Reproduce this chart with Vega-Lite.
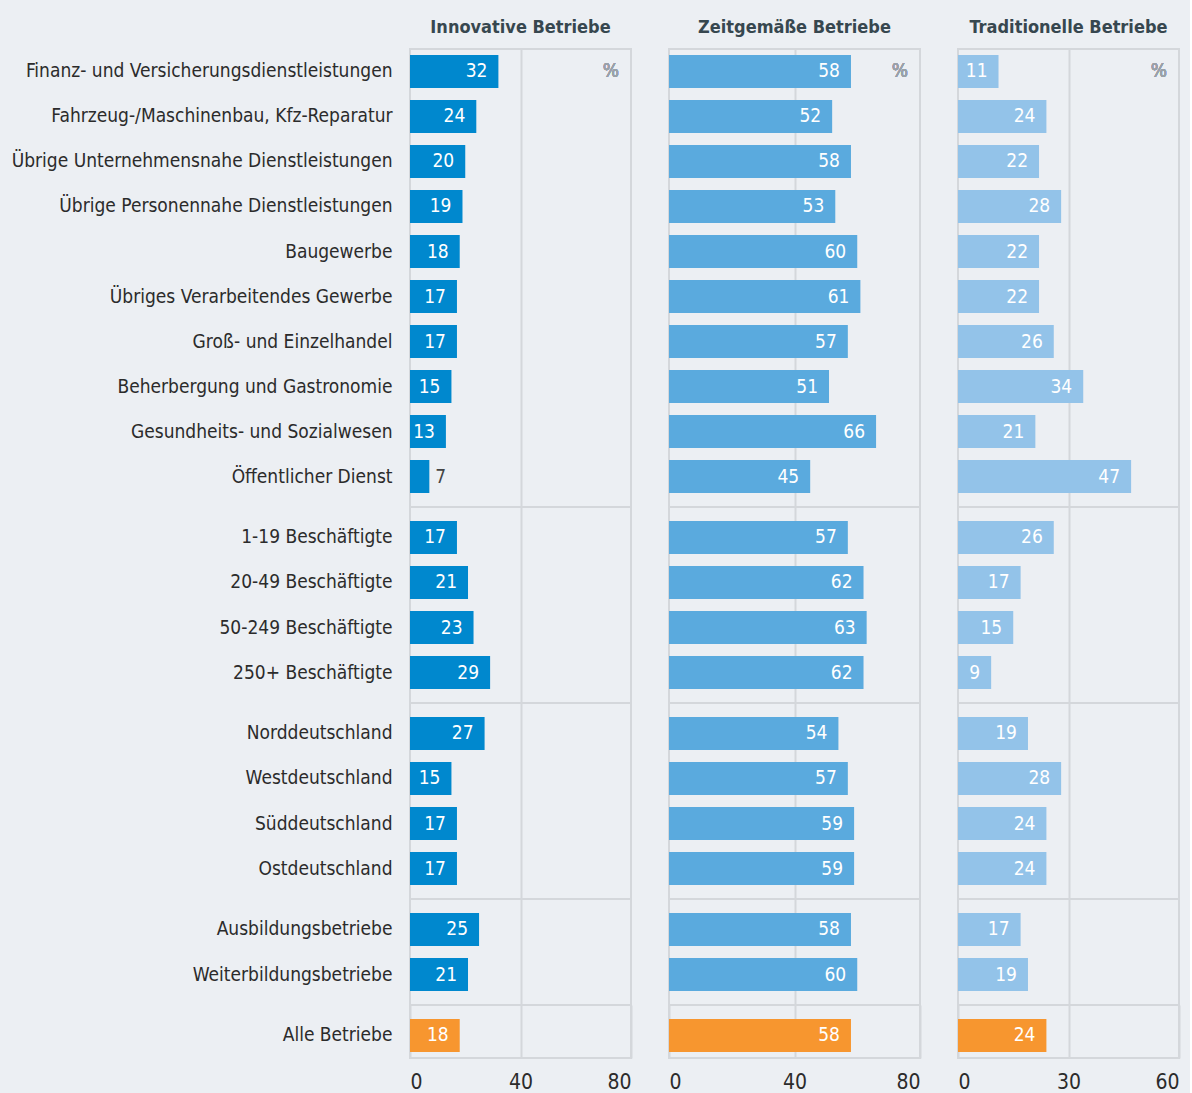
{
  "$schema": "https://vega.github.io/schema/vega-lite/v6.json",
  "background": "#eceff3",
  "padding": {"left": 10, "top": 18, "right": 10, "bottom": 0},
  "datasets": {
    "d": [
      {"Merkmal": "Finanz- und Versicherungsdienstleistungen", "Gruppe": 1, "Innovativ": 32, "Zeitgemaess": 58, "Traditionell": 11},
      {"Merkmal": "Fahrzeug-/Maschinenbau, Kfz-Reparatur", "Gruppe": 1, "Innovativ": 24, "Zeitgemaess": 52, "Traditionell": 24},
      {"Merkmal": "Übrige Unternehmensnahe Dienstleistungen", "Gruppe": 1, "Innovativ": 20, "Zeitgemaess": 58, "Traditionell": 22},
      {"Merkmal": "Übrige Personennahe Dienstleistungen", "Gruppe": 1, "Innovativ": 19, "Zeitgemaess": 53, "Traditionell": 28},
      {"Merkmal": "Baugewerbe", "Gruppe": 1, "Innovativ": 18, "Zeitgemaess": 60, "Traditionell": 22},
      {"Merkmal": "Übriges Verarbeitendes Gewerbe", "Gruppe": 1, "Innovativ": 17, "Zeitgemaess": 61, "Traditionell": 22},
      {"Merkmal": "Groß- und Einzelhandel", "Gruppe": 1, "Innovativ": 17, "Zeitgemaess": 57, "Traditionell": 26},
      {"Merkmal": "Beherbergung und Gastronomie", "Gruppe": 1, "Innovativ": 15, "Zeitgemaess": 51, "Traditionell": 34},
      {"Merkmal": "Gesundheits- und Sozialwesen", "Gruppe": 1, "Innovativ": 13, "Zeitgemaess": 66, "Traditionell": 21},
      {"Merkmal": "Öffentlicher Dienst", "Gruppe": 1, "Innovativ": 7, "Zeitgemaess": 45, "Traditionell": 47},
      {"Merkmal": "1-19 Beschäftigte", "Gruppe": 2, "Innovativ": 17, "Zeitgemaess": 57, "Traditionell": 26},
      {"Merkmal": "20-49 Beschäftigte", "Gruppe": 2, "Innovativ": 21, "Zeitgemaess": 62, "Traditionell": 17},
      {"Merkmal": "50-249 Beschäftigte", "Gruppe": 2, "Innovativ": 23, "Zeitgemaess": 63, "Traditionell": 15},
      {"Merkmal": "250+ Beschäftigte", "Gruppe": 2, "Innovativ": 29, "Zeitgemaess": 62, "Traditionell": 9},
      {"Merkmal": "Norddeutschland", "Gruppe": 3, "Innovativ": 27, "Zeitgemaess": 54, "Traditionell": 19},
      {"Merkmal": "Westdeutschland", "Gruppe": 3, "Innovativ": 15, "Zeitgemaess": 57, "Traditionell": 28},
      {"Merkmal": "Süddeutschland", "Gruppe": 3, "Innovativ": 17, "Zeitgemaess": 59, "Traditionell": 24},
      {"Merkmal": "Ostdeutschland", "Gruppe": 3, "Innovativ": 17, "Zeitgemaess": 59, "Traditionell": 24},
      {"Merkmal": "Ausbildungsbetriebe", "Gruppe": 4, "Innovativ": 25, "Zeitgemaess": 58, "Traditionell": 17},
      {"Merkmal": "Weiterbildungsbetriebe", "Gruppe": 4, "Innovativ": 21, "Zeitgemaess": 60, "Traditionell": 19},
      {"Merkmal": "Alle Betriebe", "Gruppe": 5, "Innovativ": 18, "Zeitgemaess": 58, "Traditionell": 24}
    ]
  },
  "spacing": 36,
  "hconcat": [
    {
      "spacing": 0,
      "bounds": "flush",
      "vconcat": [
        {
          "title": {"text": "Innovative Betriebe"},
          "data": {"name": "d"},
          "transform": [{"filter": "datum.Gruppe === 1"}],
          "width": 221, "height": 458,
          "encoding": {
            "y": {"field": "Merkmal", "type": "nominal", "sort": null, "scale": {"paddingInner": 0.2667, "paddingOuter": 0.2222, "align": 0.3}, "axis": {"title": null, "ticks": false, "domain": false, "labelPadding": 18, "labelLimit": 500, "labelFontSize": 19, "labelColor": "#2b2b2b"}},
            "x": {"field": "Innovativ", "type": "quantitative", "scale": {"domain": [0, 80]}, "axis": {"values": [40], "grid": true, "labels": false, "ticks": false, "domain": false, "title": null}}
          },
          "layer": [
            {"mark": {"type": "bar"}, "encoding": {"color": {"condition": {"test": "datum.Merkmal === 'Alle Betriebe'", "value": "#f7962f"}, "value": "#0088ce"}}},
            {"transform": [{"filter": "datum.Innovativ >= 8"}], "mark": {"type": "text", "align": "right", "dx": -11, "fontSize": 19, "color": "white"}, "encoding": {"text": {"field": "Innovativ"}}},
            {"transform": [{"filter": "datum.Innovativ < 8"}], "mark": {"type": "text", "align": "left", "dx": 6, "fontSize": 19, "color": "#444444"}, "encoding": {"text": {"field": "Innovativ"}}},
            {"mark": {"type": "text", "align": "right", "dx": -12, "fontSize": 19, "color": "#9aa1a9"}, "encoding": {"x": {"datum": 80}, "y": {"datum": "Finanz- und Versicherungsdienstleistungen"}, "text": {"value": "%"}}}
          ]
        },
        {
          "data": {"name": "d"},
          "transform": [{"filter": "datum.Gruppe === 2"}],
          "width": 221, "height": 196,
          "encoding": {
            "y": {"field": "Merkmal", "type": "nominal", "sort": null, "scale": {"paddingInner": 0.2667, "paddingOuter": 0.3111, "align": 0.5}, "axis": {"title": null, "ticks": false, "domain": false, "labelPadding": 18, "labelLimit": 500, "labelFontSize": 19, "labelColor": "#2b2b2b"}},
            "x": {"field": "Innovativ", "type": "quantitative", "scale": {"domain": [0, 80]}, "axis": {"values": [40], "grid": true, "labels": false, "ticks": false, "domain": false, "title": null}}
          },
          "layer": [
            {"mark": {"type": "bar"}, "encoding": {"color": {"condition": {"test": "datum.Merkmal === 'Alle Betriebe'", "value": "#f7962f"}, "value": "#0088ce"}}},
            {"transform": [{"filter": "datum.Innovativ >= 8"}], "mark": {"type": "text", "align": "right", "dx": -11, "fontSize": 19, "color": "white"}, "encoding": {"text": {"field": "Innovativ"}}}
          ]
        },
        {
          "data": {"name": "d"},
          "transform": [{"filter": "datum.Gruppe === 3"}],
          "width": 221, "height": 196,
          "encoding": {
            "y": {"field": "Merkmal", "type": "nominal", "sort": null, "scale": {"paddingInner": 0.2667, "paddingOuter": 0.3111, "align": 0.5}, "axis": {"title": null, "ticks": false, "domain": false, "labelPadding": 18, "labelLimit": 500, "labelFontSize": 19, "labelColor": "#2b2b2b"}},
            "x": {"field": "Innovativ", "type": "quantitative", "scale": {"domain": [0, 80]}, "axis": {"values": [40], "grid": true, "labels": false, "ticks": false, "domain": false, "title": null}}
          },
          "layer": [
            {"mark": {"type": "bar"}, "encoding": {"color": {"condition": {"test": "datum.Merkmal === 'Alle Betriebe'", "value": "#f7962f"}, "value": "#0088ce"}}},
            {"transform": [{"filter": "datum.Innovativ >= 8"}], "mark": {"type": "text", "align": "right", "dx": -11, "fontSize": 19, "color": "white"}, "encoding": {"text": {"field": "Innovativ"}}}
          ]
        },
        {
          "data": {"name": "d"},
          "transform": [{"filter": "datum.Gruppe === 4"}],
          "width": 221, "height": 106,
          "encoding": {
            "y": {"field": "Merkmal", "type": "nominal", "sort": null, "scale": {"paddingInner": 0.2667, "paddingOuter": 0.3111, "align": 0.5}, "axis": {"title": null, "ticks": false, "domain": false, "labelPadding": 18, "labelLimit": 500, "labelFontSize": 19, "labelColor": "#2b2b2b"}},
            "x": {"field": "Innovativ", "type": "quantitative", "scale": {"domain": [0, 80]}, "axis": {"values": [40], "grid": true, "labels": false, "ticks": false, "domain": false, "title": null}}
          },
          "layer": [
            {"mark": {"type": "bar"}, "encoding": {"color": {"condition": {"test": "datum.Merkmal === 'Alle Betriebe'", "value": "#f7962f"}, "value": "#0088ce"}}},
            {"transform": [{"filter": "datum.Innovativ >= 8"}], "mark": {"type": "text", "align": "right", "dx": -11, "fontSize": 19, "color": "white"}, "encoding": {"text": {"field": "Innovativ"}}}
          ]
        },
        {
          "data": {"name": "d"},
          "transform": [{"filter": "datum.Gruppe === 5"}],
          "width": 221, "height": 53,
          "encoding": {
            "y": {"field": "Merkmal", "type": "nominal", "sort": null, "scale": {"paddingInner": 0.2667, "paddingOuter": 0.2222, "align": 0.7}, "axis": {"title": null, "ticks": false, "domain": false, "labelPadding": 18, "labelLimit": 500, "labelFontSize": 19, "labelColor": "#2b2b2b"}},
            "x": {"field": "Innovativ", "type": "quantitative", "scale": {"domain": [0, 80]}, "axis": {"values": [0, 40, 80], "grid": true, "labels": true, "labelFlush": true, "labelPadding": 13, "labelFontSize": 21, "labelColor": "#2b2b2b", "ticks": false, "domain": false, "title": null}}
          },
          "layer": [
            {"mark": {"type": "bar"}, "encoding": {"color": {"condition": {"test": "datum.Merkmal === 'Alle Betriebe'", "value": "#f7962f"}, "value": "#0088ce"}}},
            {"transform": [{"filter": "datum.Innovativ >= 8"}], "mark": {"type": "text", "align": "right", "dx": -11, "fontSize": 19, "color": "white"}, "encoding": {"text": {"field": "Innovativ"}}}
          ]
        }
      ]
    },
    {
      "spacing": 0,
      "bounds": "flush",
      "vconcat": [
        {
          "title": {"text": "Zeitgemäße Betriebe"},
          "data": {"name": "d"},
          "transform": [{"filter": "datum.Gruppe === 1"}],
          "width": 251, "height": 458,
          "encoding": {
            "y": {"field": "Merkmal", "type": "nominal", "sort": null, "scale": {"paddingInner": 0.2667, "paddingOuter": 0.2222, "align": 0.3}, "axis": null},
            "x": {"field": "Zeitgemaess", "type": "quantitative", "scale": {"domain": [0, 80]}, "axis": {"values": [40], "grid": true, "labels": false, "ticks": false, "domain": false, "title": null}}
          },
          "layer": [
            {"mark": {"type": "bar"}, "encoding": {"color": {"condition": {"test": "datum.Merkmal === 'Alle Betriebe'", "value": "#f7962f"}, "value": "#5aaade"}}},
            {"mark": {"type": "text", "align": "right", "dx": -11, "fontSize": 19, "color": "white"}, "encoding": {"text": {"field": "Zeitgemaess"}}},
            {"mark": {"type": "text", "align": "right", "dx": -12, "fontSize": 19, "color": "#9aa1a9"}, "encoding": {"x": {"datum": 80}, "y": {"datum": "Finanz- und Versicherungsdienstleistungen"}, "text": {"value": "%"}}}
          ]
        },
        {
          "data": {"name": "d"},
          "transform": [{"filter": "datum.Gruppe === 2"}],
          "width": 251, "height": 196,
          "encoding": {
            "y": {"field": "Merkmal", "type": "nominal", "sort": null, "scale": {"paddingInner": 0.2667, "paddingOuter": 0.3111, "align": 0.5}, "axis": null},
            "x": {"field": "Zeitgemaess", "type": "quantitative", "scale": {"domain": [0, 80]}, "axis": {"values": [40], "grid": true, "labels": false, "ticks": false, "domain": false, "title": null}}
          },
          "layer": [
            {"mark": {"type": "bar"}, "encoding": {"color": {"condition": {"test": "datum.Merkmal === 'Alle Betriebe'", "value": "#f7962f"}, "value": "#5aaade"}}},
            {"mark": {"type": "text", "align": "right", "dx": -11, "fontSize": 19, "color": "white"}, "encoding": {"text": {"field": "Zeitgemaess"}}}
          ]
        },
        {
          "data": {"name": "d"},
          "transform": [{"filter": "datum.Gruppe === 3"}],
          "width": 251, "height": 196,
          "encoding": {
            "y": {"field": "Merkmal", "type": "nominal", "sort": null, "scale": {"paddingInner": 0.2667, "paddingOuter": 0.3111, "align": 0.5}, "axis": null},
            "x": {"field": "Zeitgemaess", "type": "quantitative", "scale": {"domain": [0, 80]}, "axis": {"values": [40], "grid": true, "labels": false, "ticks": false, "domain": false, "title": null}}
          },
          "layer": [
            {"mark": {"type": "bar"}, "encoding": {"color": {"condition": {"test": "datum.Merkmal === 'Alle Betriebe'", "value": "#f7962f"}, "value": "#5aaade"}}},
            {"mark": {"type": "text", "align": "right", "dx": -11, "fontSize": 19, "color": "white"}, "encoding": {"text": {"field": "Zeitgemaess"}}}
          ]
        },
        {
          "data": {"name": "d"},
          "transform": [{"filter": "datum.Gruppe === 4"}],
          "width": 251, "height": 106,
          "encoding": {
            "y": {"field": "Merkmal", "type": "nominal", "sort": null, "scale": {"paddingInner": 0.2667, "paddingOuter": 0.3111, "align": 0.5}, "axis": null},
            "x": {"field": "Zeitgemaess", "type": "quantitative", "scale": {"domain": [0, 80]}, "axis": {"values": [40], "grid": true, "labels": false, "ticks": false, "domain": false, "title": null}}
          },
          "layer": [
            {"mark": {"type": "bar"}, "encoding": {"color": {"condition": {"test": "datum.Merkmal === 'Alle Betriebe'", "value": "#f7962f"}, "value": "#5aaade"}}},
            {"mark": {"type": "text", "align": "right", "dx": -11, "fontSize": 19, "color": "white"}, "encoding": {"text": {"field": "Zeitgemaess"}}}
          ]
        },
        {
          "data": {"name": "d"},
          "transform": [{"filter": "datum.Gruppe === 5"}],
          "width": 251, "height": 53,
          "encoding": {
            "y": {"field": "Merkmal", "type": "nominal", "sort": null, "scale": {"paddingInner": 0.2667, "paddingOuter": 0.2222, "align": 0.7}, "axis": null},
            "x": {"field": "Zeitgemaess", "type": "quantitative", "scale": {"domain": [0, 80]}, "axis": {"values": [0, 40, 80], "grid": true, "labels": true, "labelFlush": true, "labelPadding": 13, "labelFontSize": 21, "labelColor": "#2b2b2b", "ticks": false, "domain": false, "title": null}}
          },
          "layer": [
            {"mark": {"type": "bar"}, "encoding": {"color": {"condition": {"test": "datum.Merkmal === 'Alle Betriebe'", "value": "#f7962f"}, "value": "#5aaade"}}},
            {"mark": {"type": "text", "align": "right", "dx": -11, "fontSize": 19, "color": "white"}, "encoding": {"text": {"field": "Zeitgemaess"}}}
          ]
        }
      ]
    },
    {
      "spacing": 0,
      "bounds": "flush",
      "vconcat": [
        {
          "title": {"text": "Traditionelle Betriebe"},
          "data": {"name": "d"},
          "transform": [{"filter": "datum.Gruppe === 1"}],
          "width": 221, "height": 458,
          "encoding": {
            "y": {"field": "Merkmal", "type": "nominal", "sort": null, "scale": {"paddingInner": 0.2667, "paddingOuter": 0.2222, "align": 0.3}, "axis": null},
            "x": {"field": "Traditionell", "type": "quantitative", "scale": {"domain": [0, 60]}, "axis": {"values": [30], "grid": true, "labels": false, "ticks": false, "domain": false, "title": null}}
          },
          "layer": [
            {"mark": {"type": "bar"}, "encoding": {"color": {"condition": {"test": "datum.Merkmal === 'Alle Betriebe'", "value": "#f7962f"}, "value": "#93c3e9"}}},
            {"mark": {"type": "text", "align": "right", "dx": -11, "fontSize": 19, "color": "white"}, "encoding": {"text": {"field": "Traditionell"}}},
            {"mark": {"type": "text", "align": "right", "dx": -12, "fontSize": 19, "color": "#9aa1a9"}, "encoding": {"x": {"datum": 60}, "y": {"datum": "Finanz- und Versicherungsdienstleistungen"}, "text": {"value": "%"}}}
          ]
        },
        {
          "data": {"name": "d"},
          "transform": [{"filter": "datum.Gruppe === 2"}],
          "width": 221, "height": 196,
          "encoding": {
            "y": {"field": "Merkmal", "type": "nominal", "sort": null, "scale": {"paddingInner": 0.2667, "paddingOuter": 0.3111, "align": 0.5}, "axis": null},
            "x": {"field": "Traditionell", "type": "quantitative", "scale": {"domain": [0, 60]}, "axis": {"values": [30], "grid": true, "labels": false, "ticks": false, "domain": false, "title": null}}
          },
          "layer": [
            {"mark": {"type": "bar"}, "encoding": {"color": {"condition": {"test": "datum.Merkmal === 'Alle Betriebe'", "value": "#f7962f"}, "value": "#93c3e9"}}},
            {"mark": {"type": "text", "align": "right", "dx": -11, "fontSize": 19, "color": "white"}, "encoding": {"text": {"field": "Traditionell"}}}
          ]
        },
        {
          "data": {"name": "d"},
          "transform": [{"filter": "datum.Gruppe === 3"}],
          "width": 221, "height": 196,
          "encoding": {
            "y": {"field": "Merkmal", "type": "nominal", "sort": null, "scale": {"paddingInner": 0.2667, "paddingOuter": 0.3111, "align": 0.5}, "axis": null},
            "x": {"field": "Traditionell", "type": "quantitative", "scale": {"domain": [0, 60]}, "axis": {"values": [30], "grid": true, "labels": false, "ticks": false, "domain": false, "title": null}}
          },
          "layer": [
            {"mark": {"type": "bar"}, "encoding": {"color": {"condition": {"test": "datum.Merkmal === 'Alle Betriebe'", "value": "#f7962f"}, "value": "#93c3e9"}}},
            {"mark": {"type": "text", "align": "right", "dx": -11, "fontSize": 19, "color": "white"}, "encoding": {"text": {"field": "Traditionell"}}}
          ]
        },
        {
          "data": {"name": "d"},
          "transform": [{"filter": "datum.Gruppe === 4"}],
          "width": 221, "height": 106,
          "encoding": {
            "y": {"field": "Merkmal", "type": "nominal", "sort": null, "scale": {"paddingInner": 0.2667, "paddingOuter": 0.3111, "align": 0.5}, "axis": null},
            "x": {"field": "Traditionell", "type": "quantitative", "scale": {"domain": [0, 60]}, "axis": {"values": [30], "grid": true, "labels": false, "ticks": false, "domain": false, "title": null}}
          },
          "layer": [
            {"mark": {"type": "bar"}, "encoding": {"color": {"condition": {"test": "datum.Merkmal === 'Alle Betriebe'", "value": "#f7962f"}, "value": "#93c3e9"}}},
            {"mark": {"type": "text", "align": "right", "dx": -11, "fontSize": 19, "color": "white"}, "encoding": {"text": {"field": "Traditionell"}}}
          ]
        },
        {
          "data": {"name": "d"},
          "transform": [{"filter": "datum.Gruppe === 5"}],
          "width": 221, "height": 53,
          "encoding": {
            "y": {"field": "Merkmal", "type": "nominal", "sort": null, "scale": {"paddingInner": 0.2667, "paddingOuter": 0.2222, "align": 0.7}, "axis": null},
            "x": {"field": "Traditionell", "type": "quantitative", "scale": {"domain": [0, 60]}, "axis": {"values": [0, 30, 60], "grid": true, "labels": true, "labelFlush": true, "labelPadding": 13, "labelFontSize": 21, "labelColor": "#2b2b2b", "ticks": false, "domain": false, "title": null}}
          },
          "layer": [
            {"mark": {"type": "bar"}, "encoding": {"color": {"condition": {"test": "datum.Merkmal === 'Alle Betriebe'", "value": "#f7962f"}, "value": "#93c3e9"}}},
            {"mark": {"type": "text", "align": "right", "dx": -11, "fontSize": 19, "color": "white"}, "encoding": {"text": {"field": "Traditionell"}}}
          ]
        }
      ]
    }
  ],
  "config": {
    "font": "DejaVu Sans Condensed, Roboto, sans-serif",
    "view": {"stroke": "#d4d7db", "strokeWidth": 2},
    "axis": {"gridColor": "#d4d7db", "gridWidth": 2, "gridOpacity": 1, "labelFont": "DejaVu Sans Condensed, Roboto, sans-serif"},
    "title": {"font": "DejaVu Sans Condensed, Roboto, sans-serif", "fontSize": 18, "fontWeight": "bold", "color": "#37474f", "anchor": "middle", "offset": 12},
    "text": {"font": "DejaVu Sans Condensed, Roboto, sans-serif"}
  }
}
